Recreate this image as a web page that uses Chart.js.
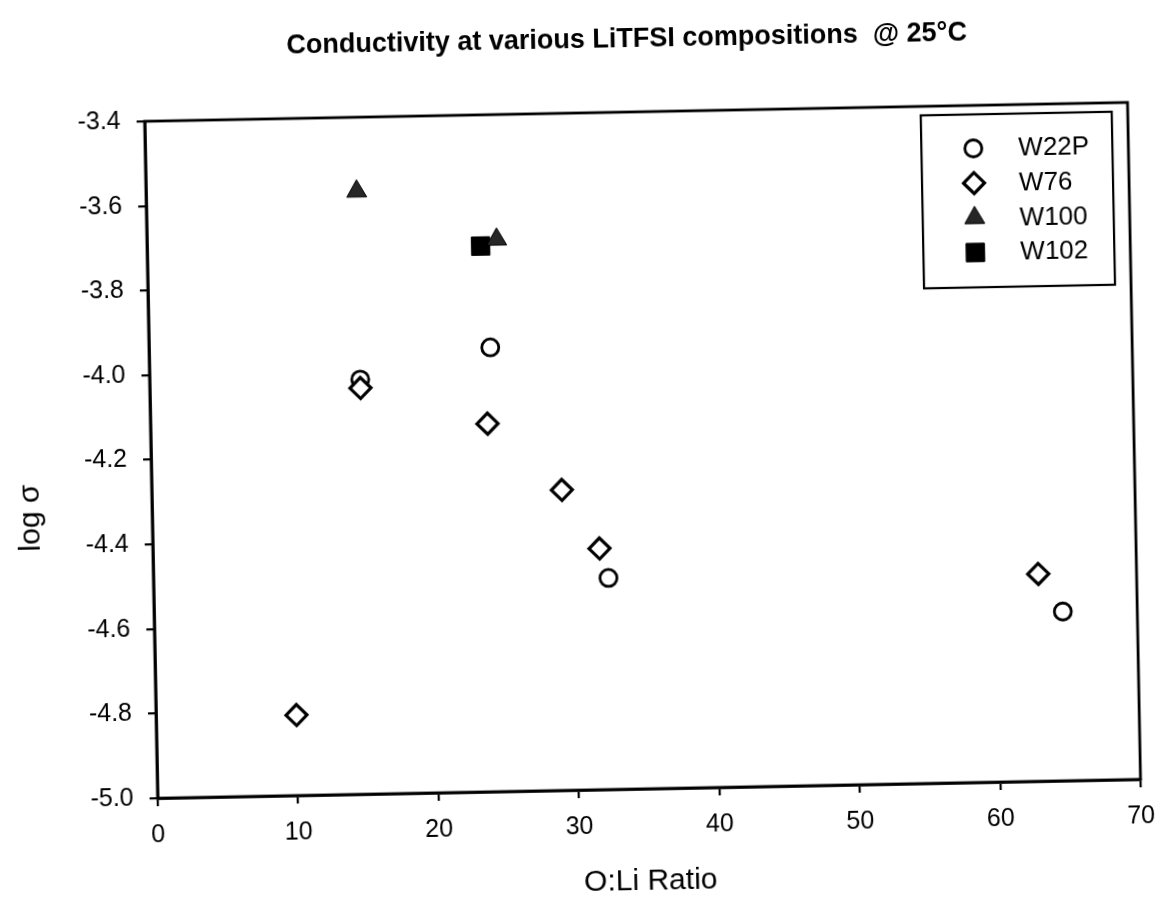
<!DOCTYPE html>
<html>
<head>
<meta charset="utf-8">
<script src="https://cdn.jsdelivr.net/npm/chart.js"></script>
<style>
  html, body { margin: 0; padding: 0; background: #fff; overflow: hidden; }
  #wrap { width: 1162px; height: 901px; transform: rotate(-1.1deg); transform-origin: 581px 450.5px; }
  canvas { display: block; }
</style>
</head>
<body>
<div id="wrap"><canvas id="c" width="1162" height="901"></canvas></div>
<script>
// ---- data ----
const chartTitle = 'Conductivity at various LiTFSI compositions  @ 25°C';
const xAxisTitle = 'O:Li Ratio';
const yAxisTitle = 'log σ';
const seriesNames = ['W22P', 'W76', 'W100', 'W102'];

const w22pX = [15, 24.3, 32.4, 64.7];
const w22pY = [-4.02, -3.95, -4.50, -4.60];

const w76X = [10, 15, 24, 29.2, 31.8, 63];
const w76Y = [-4.81, -4.04, -4.13, -4.29, -4.43, -4.51];

const w100X = [15, 24.9];
const w100Y = [-3.575, -3.695];

const w102X = [23.75];
const w102Y = [-3.71];

const xMin = 0, xMax = 70, xStep = 10;
const yMin = -5.0, yMax = -3.4, yStep = 0.2;

function pts(xs, ys) { return xs.map((x, i) => ({ x: x, y: ys[i] })); }

const FONT = '"Liberation Sans", Arial, Helvetica, sans-serif';

const datasets = [
  { label: seriesNames[0], data: pts(w22pX, w22pY), pointStyle: 'circle', pointRadius: 8.5,
    pointBackgroundColor: '#ffffff', pointBorderColor: '#000000', pointBorderWidth: 2.8, order: 3 },
  { label: seriesNames[1], data: pts(w76X, w76Y), pointStyle: 'rectRot', pointRadius: 10.5,
    pointBackgroundColor: '#ffffff', pointBorderColor: '#000000', pointBorderWidth: 3.2, order: 2 },
  { label: seriesNames[2], data: pts(w100X, w100Y), pointStyle: 'triangle', pointRadius: 11.5,
    pointBackgroundColor: '#262626', pointBorderColor: '#000000', pointBorderWidth: 1, order: 0 },
  { label: seriesNames[3], data: pts(w102X, w102Y), pointStyle: 'rect', pointRadius: 13,
    pointBackgroundColor: '#000000', pointBorderColor: '#000000', pointBorderWidth: 1, order: 1 }
];

const decorPlugin = {
  id: 'decor',
  afterDraw(chart) {
    const ctx = chart.ctx, a = chart.chartArea;
    ctx.save();
    // plot frame
    ctx.strokeStyle = '#000';
    ctx.lineWidth = 2.8;
    ctx.strokeRect(a.left, a.top, a.right - a.left, a.bottom - a.top);

    // chart title
    ctx.fillStyle = '#000';
    ctx.textAlign = 'center';
    ctx.textBaseline = 'middle';
    ctx.font = 'bold 27px ' + FONT;
    ctx.fillText(chartTitle, (a.left + a.right) / 2 - 8, 41);

    // y axis title
    ctx.save();
    ctx.translate(30, (a.top + a.bottom) / 2 + 56);
    ctx.rotate(-Math.PI / 2);
    ctx.font = '30px ' + FONT;
    ctx.fillText(yAxisTitle, 0, 0);
    ctx.restore();

    // legend box
    const bw = 191, bh = 173;
    const bx = a.right - 16 - bw, by = a.top + 9;
    ctx.lineWidth = 2.2;
    ctx.strokeRect(bx, by, bw, bh);
    ctx.font = '26px ' + FONT;
    ctx.textAlign = 'left';
    chart.data.datasets.forEach((ds, i) => {
      const y = by + 34 + i * 34.7;
      ctx.fillStyle = ds.pointBackgroundColor;
      ctx.strokeStyle = ds.pointBorderColor;
      ctx.lineWidth = ds.pointBorderWidth;
      Chart.helpers.drawPoint(ctx, {
        pointStyle: ds.pointStyle, radius: ds.pointRadius,
        borderWidth: ds.pointBorderWidth, rotation: 0
      }, bx + 52, y);
      ctx.fillStyle = '#000';
      ctx.fillText(ds.label, bx + 97, y + 1);
    });
    ctx.restore();
  }
};

new Chart(document.getElementById('c'), {
  type: 'scatter',
  data: { datasets: datasets },
  plugins: [decorPlugin],
  options: {
    responsive: false,
    animation: false,
    devicePixelRatio: 1,
    layout: { padding: { top: 113, right: 26, left: 0, bottom: 0 } },
    plugins: { legend: { display: false }, tooltip: { enabled: false }, title: { display: false } },
    scales: {
      x: {
        type: 'linear', position: 'bottom', min: xMin, max: xMax,
        afterFit(s) { s.height = 111; },
        ticks: { stepSize: xStep, color: '#000', font: { family: FONT, size: 25 }, padding: 14, maxRotation: 0 },
        grid: { drawOnChartArea: false, drawTicks: true, tickLength: 8, color: '#000', lineWidth: 2.2 },
        border: { display: true, color: '#000', width: 2.8 },
        title: { display: true, text: xAxisTitle, color: '#000', font: { family: FONT, size: 30 }, padding: { top: 0, bottom: 0 } }
      },
      y: {
        type: 'linear', position: 'left', min: yMin, max: yMax,
        afterFit(s) { s.width = 151; },
        ticks: { stepSize: yStep, color: '#000', font: { family: FONT, size: 25 }, padding: 16,
                 callback: v => Number(v).toFixed(1) },
        grid: { drawOnChartArea: false, drawTicks: true, tickLength: 8, color: '#000', lineWidth: 2.2 },
        border: { display: true, color: '#000', width: 2.8 }
      }
    }
  }
});
</script>
</body>
</html>
